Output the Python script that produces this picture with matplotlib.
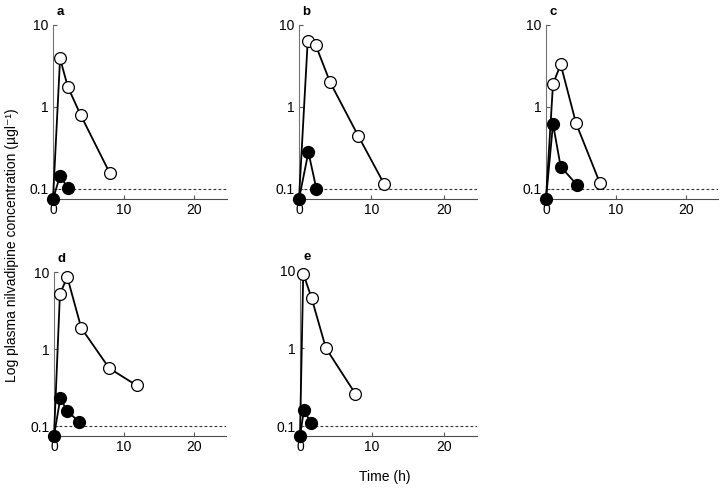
import numpy as np
import matplotlib.pyplot as plt

plt.rcParams['font.family'] = ['Liberation Sans', 'DejaVu Sans']

# data: time (h) and plasma conc (ug/l); first point sits on the axis floor (< LOQ)
panels = ["a", "b", "c", "d", "e"]

t_open_a = [0, 1.0, 2.1, 3.9, 8.0]
c_open_a = [0.075, 3.9, 1.75, 0.80, 0.157]
t_fill_a = [0, 1.0, 2.1]
c_fill_a = [0.075, 0.144, 0.102]

t_open_b = [0, 1.2, 2.3, 4.3, 8.2, 11.8]
c_open_b = [0.075, 6.3, 5.7, 2.0, 0.44, 0.113]
t_fill_b = [0, 1.3, 2.4]
c_fill_b = [0.075, 0.28, 0.10]

t_open_c = [0, 1.0, 2.1, 4.3, 7.7]
c_open_c = [0.075, 1.9, 3.3, 0.63, 0.118]
t_fill_c = [0, 1.0, 2.1, 4.5]
c_fill_c = [0.075, 0.62, 0.186, 0.11]

t_open_d = [0, 0.85, 1.9, 3.9, 7.9, 11.8]
c_open_d = [0.075, 5.2, 8.6, 1.88, 0.566, 0.34]
t_fill_d = [0, 0.9, 1.9, 3.6]
c_fill_d = [0.075, 0.231, 0.158, 0.114]

t_open_e = [0, 0.45, 1.6, 3.6, 7.7]
c_open_e = [0.075, 9.0, 4.4, 1.0, 0.26]
t_fill_e = [0, 0.55, 1.5]
c_fill_e = [0.075, 0.162, 0.11]

open_t = [t_open_a, t_open_b, t_open_c, t_open_d, t_open_e]
open_c = [c_open_a, c_open_b, c_open_c, c_open_d, c_open_e]
fill_t = [t_fill_a, t_fill_b, t_fill_c, t_fill_d, t_fill_e]
fill_c = [c_fill_a, c_fill_b, c_fill_c, c_fill_d, c_fill_e]

loq = 0.1

fig = plt.figure(figsize=(7.2, 4.88), dpi=100)
W, H = 720, 488
# axes boxes in pixels: left, top, width, height
boxes = [(53, 25, 174, 174), (299, 25, 178, 174), (546, 25, 172, 174),
         (54, 272, 172, 164), (300, 270, 177, 166)]

for i, p in enumerate(panels):
    l, t, w, h = boxes[i]
    ax = fig.add_axes([l / W, (H - t - h) / H, w / W, h / H])
    ax.set_yscale('log')
    ax.plot([0, 25], [loq, loq], ls=(0, (2.5, 2)), color='0.2', lw=0.8, zorder=1)
    ax.plot(open_t[i], open_c[i], '-o', color='black', lw=1.3, ms=8.5,
            mfc='white', mec='black', mew=0.9, markevery=slice(1, None),
            zorder=3, clip_on=False)
    ax.plot(fill_t[i], fill_c[i], '-o', color='black', lw=1.3, ms=8.5,
            mfc='black', mec='black', zorder=4, clip_on=False)
    ax.set_xlim(0, 24.6)
    ax.set_ylim(0.075, 10)
    ax.set_yticks([0.1, 1, 10])
    ax.set_yticklabels(["0.1", "1", "10"])
    ax.yaxis.set_minor_locator(plt.NullLocator())
    ax.set_xticks([0, 10, 20])
    ax.tick_params(direction='in', length=3, width=0.8, labelsize=10,
                   color='0.35', pad=3)
    for s in ['top', 'right']:
        ax.spines[s].set_visible(False)
    ax.spines['left'].set_color('0.45')
    ax.spines['bottom'].set_color('0.3')
    ax.text(0.02, 1.04, p, transform=ax.transAxes, fontsize=9.5,
            fontweight='bold', ha='left', va='bottom')

fig.text(12 / W, 1 - 245 / H, "Log plasma nilvadipine concentration (µgl⁻¹)",
         rotation=90, ha='center', va='center', fontsize=10)
fig.text(385 / W, 1 - 477 / H, "Time (h)", ha='center', va='center', fontsize=10)

plt.savefig('out.png', dpi=100)
